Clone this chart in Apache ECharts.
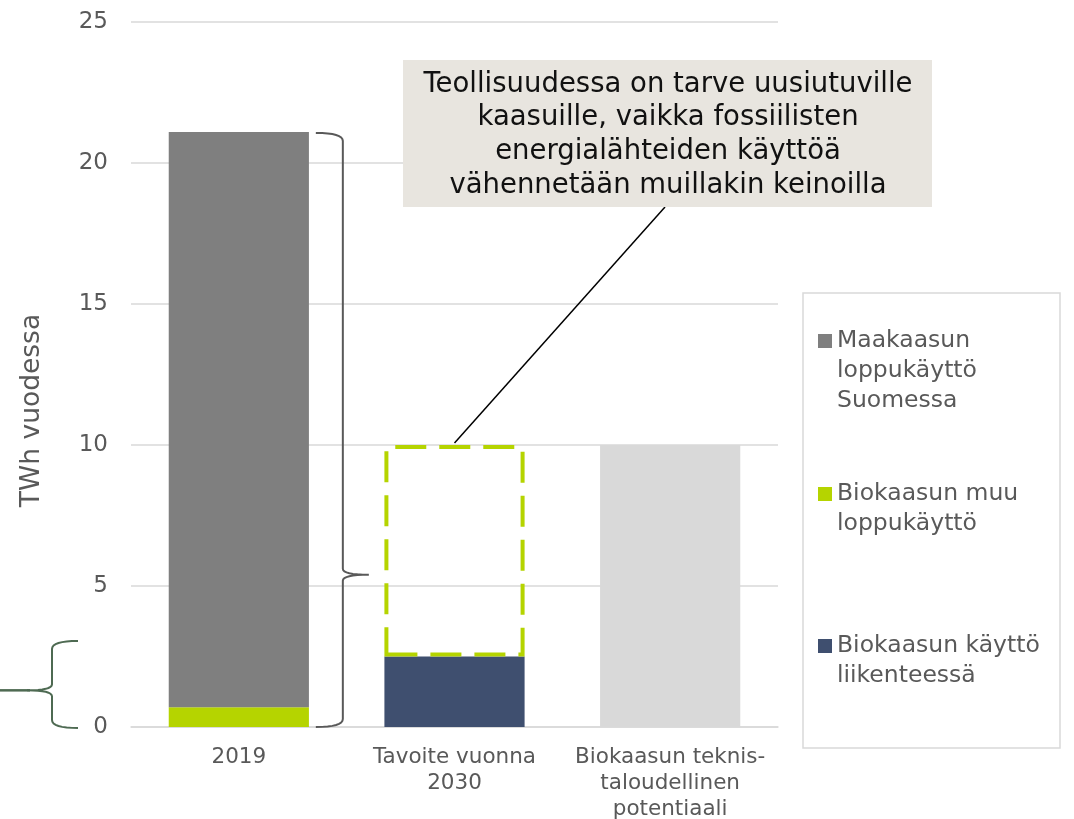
<!DOCTYPE html>
<html>
<head>
<meta charset="utf-8">
<script src="https://cdn.jsdelivr.net/npm/echarts@6/dist/echarts.min.js"></script>
<style>
html, body { margin: 0; padding: 0; background: #fff; }
#main { width: 1074px; height: 819px; }
</style>
</head>
<body>
<div id="main"></div>
<script>
// kategoriat
var categories = ['2019', 'Tavoite vuonna\n2030', 'Biokaasun teknis-\ntaloudellinen\npotentiaali'];

// arvot, TWh vuodessa
var biokaasuMuu      = [0.7, '-', '-'];
var biokaasuLiikenne = ['-', 2.5, '-'];
var maakaasu         = [20.4, '-', '-'];
var tavoiteLaatikko  = ['-', 7.5, '-'];   // katkoviivalaatikko 2.5 -> 10
var potentiaali      = ['-', '-', 10];

// y-akseli: min, max, väli
var yAxisTicks = [0, 25, 5];

// sulkeet: [alku, loppu, kärki] arvoina
var bracket2019 = [0, 21.1, 5.4];
var bracketLeft = [0, 3.05, 1.3];

var legendNames = ['Maakaasun loppukäyttö Suomessa', 'Biokaasun muu loppukäyttö', 'Biokaasun käyttö liikenteessä'];
var legendText = {
    'Maakaasun loppukäyttö Suomessa': ['Maakaasun', 'loppukäyttö', 'Suomessa'],
    'Biokaasun muu loppukäyttö': ['Biokaasun muu', 'loppukäyttö'],
    'Biokaasun käyttö liikenteessä': ['Biokaasun käyttö', 'liikenteessä']
};
var noteText = 'Teollisuudessa on tarve uusiutuville\nkaasuille, vaikka fossiilisten\nenergialähteiden käyttöä\nvähennetään muillakin keinoilla';

var FONT = 'DejaVu Sans, Verdana, sans-serif';
var GREEN = '#b5d400';

var myChart = echarts.init(document.getElementById('main'));

function makeLegend(name, iconY) {
    // ikoni keskittyy tekstilohkoon -> tyhjät rivit alkuun, jotta ikoni osuu 1. riville
    var lh = 30;
    var lines = legendText[name].length;
    var h = (2 * lines - 1) * lh;
    return {
        data: [name],
        left: 818,
        top: iconY - h / 2,
        orient: 'vertical',
        padding: 0,
        icon: 'rect',
        itemWidth: 14,
        itemHeight: 14,
        selectedMode: false,
        formatter: function (n) {
            var t = legendText[n];
            var pad = [];
            for (var i = 1; i < t.length; i++) pad.push(' ');
            return pad.concat(t).join('\n');
        },
        textStyle: {
            fontFamily: FONT,
            fontSize: 23.5,
            lineHeight: lh,
            color: '#595959'
        }
    };
}

var option = {
    animation: false,
    backgroundColor: '#fff',
    grid: { left: 131, right: 296, top: 22, bottom: 92, containLabel: false, outerBoundsMode: 'none' },
    legend: [
        makeLegend(legendNames[0], 341),
        makeLegend(legendNames[1], 494),
        makeLegend(legendNames[2], 646)
    ],
    xAxis: {
        type: 'category',
        data: categories,
        axisLine: { lineStyle: { color: '#d9d9d9', width: 1.5 } },
        axisTick: { show: false },
        axisLabel: {
            fontFamily: FONT,
            fontSize: 21.5,
            lineHeight: 26,
            color: '#595959',
            margin: 17,
            interval: 0
        }
    },
    yAxis: {
        type: 'value',
        min: yAxisTicks[0],
        max: yAxisTicks[1],
        interval: yAxisTicks[2],
        name: 'TWh vuodessa',
        nameLocation: 'middle',
        nameGap: 85,
        nameTextStyle: { fontFamily: FONT, fontSize: 26.5, color: '#595959', padding: [0, 72, 0, 0] },
        axisLine: { show: false },
        axisTick: { show: false },
        axisLabel: { fontFamily: FONT, fontSize: 23, color: '#595959', margin: 23 },
        splitLine: { lineStyle: { color: '#d9d9d9', width: 1.5 } }
    },
    series: [{
        name: legendNames[1],
        type: 'bar',
        stack: 'a',
        barWidth: '65%',
        data: biokaasuMuu,
        itemStyle: { color: GREEN }
    }, {
        name: legendNames[2],
        type: 'bar',
        stack: 'a',
        data: biokaasuLiikenne,
        itemStyle: { color: '#3f4f6f' }
    }, {
        name: legendNames[0],
        type: 'bar',
        stack: 'a',
        data: maakaasu,
        itemStyle: { color: '#7f7f7f' }
    }, {
        name: 'Tavoite',
        type: 'bar',
        stack: 'a',
        data: tavoiteLaatikko,
        itemStyle: {
            color: 'rgba(255,255,255,0)',
            borderColor: GREEN,
            borderWidth: 4,
            borderType: [31, 13]
        }
    }, {
        name: 'Potentiaali',
        type: 'bar',
        stack: 'a',
        data: potentiaali,
        itemStyle: { color: '#d9d9d9' }
    }]
};
myChart.setOption(option);

// sulkeen pisteet, pyöristetyt kulmat
function quad(p0, c, p1, pts) {
    for (var i = 1; i <= 8; i++) {
        var t = i / 8, u = 1 - t;
        pts.push([u * u * p0[0] + 2 * u * t * c[0] + t * t * p1[0],
                  u * u * p0[1] + 2 * u * t * c[1] + t * t * p1[1]]);
    }
}
function bracketPts(x0, xv, xTip, yTop, yTip, yBot, r, rt) {
    var pts = [[x0, yTop]];
    quad([x0, yTop], [xv, yTop], [xv, yTop + r], pts);
    pts.push([xv, yTip - rt]);
    quad([xv, yTip - rt], [xv, yTip], [xTip, yTip], pts);
    quad([xTip, yTip], [xv, yTip], [xv, yTip + rt], pts);
    pts.push([xv, yBot - r]);
    quad([xv, yBot - r], [xv, yBot], [x0, yBot], pts);
    return pts;
}

var y0 = myChart.convertToPixel({ yAxisIndex: 0 }, bracket2019[0]);
var y1 = myChart.convertToPixel({ yAxisIndex: 0 }, bracket2019[1]);
var yt = myChart.convertToPixel({ yAxisIndex: 0 }, bracket2019[2]);
var x2019 = myChart.convertToPixel({ xAxisIndex: 0 }, categories[0]);
var bx = x2019 + 77;

var l0 = myChart.convertToPixel({ yAxisIndex: 0 }, bracketLeft[0]);
var l1 = myChart.convertToPixel({ yAxisIndex: 0 }, bracketLeft[1]);
var lt = myChart.convertToPixel({ yAxisIndex: 0 }, bracketLeft[2]);

var target = myChart.convertToPixel({ seriesIndex: 3 }, [categories[1], 10]);

myChart.setOption({
    graphic: [{
        type: 'rect',
        z: 0,
        shape: { x: 803, y: 293, width: 257, height: 455 },
        style: { fill: '#fff', stroke: '#d9d9d9', lineWidth: 1.5 }
    }, {
        type: 'polyline',
        z: 10,
        shape: { points: bracketPts(bx, bx + 27, bx + 53, y1 + 1, yt, y0, 8, 6) },
        style: { fill: null, stroke: '#595959', lineWidth: 2 }
    }, {
        type: 'polyline',
        z: 10,
        shape: { points: bracketPts(78, 52, 27, l1, lt, l0 + 1, 8, 6) },
        style: { fill: null, stroke: '#4e6a52', lineWidth: 2 }
    }, {
        type: 'line',
        z: 10,
        shape: { x1: 0, y1: lt, x2: 30, y2: lt },
        style: { stroke: '#4e6a52', lineWidth: 2.5 }
    }, {
        type: 'line',
        z: 10,
        shape: { x1: 665, y1: 207, x2: target[0], y2: target[1] - 2 },
        style: { stroke: '#000', lineWidth: 1.5 }
    }, {
        type: 'rect',
        z: 10,
        shape: { x: 403, y: 60, width: 529, height: 147 },
        style: { fill: '#e8e5df' }
    }, {
        type: 'text',
        z: 11,
        x: 668,
        y: 135,
        style: {
            text: noteText,
            fill: '#111',
            font: '27.5px ' + FONT,
            lineHeight: 33.7,
            align: 'center',
            verticalAlign: 'middle'
        }
    }]
});
</script>
</body>
</html>
